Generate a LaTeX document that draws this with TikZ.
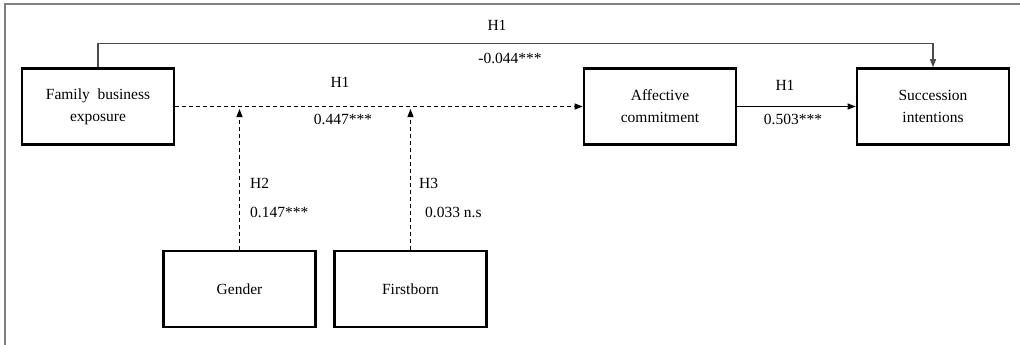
\documentclass[tikz,border=0pt]{standalone}
\usepackage{fontspec}
\setmainfont{Liberation Serif}
\usetikzlibrary{arrows.meta}
\begin{document}
\begin{tikzpicture}[x=1pt,y=-1pt,
  varbox/.style={draw=black,line width=2.6pt,minimum width=152pt,minimum height=76pt,
    align=center,inner sep=0pt,font=\fontsize{15.5}{22}\selectfont},
  conn/.style={line width=1.1pt,-{Triangle[length=8pt,width=6pt]}},
  dconn/.style={conn,dash pattern=on 4pt off 3pt},
  lab/.style={inner sep=0pt,font=\fontsize{15.5}{18}\selectfont}]
\useasboundingbox (0,0) rectangle (1020,345);
\draw[line width=2pt,color=black!50] (4.5,345) -- (4.5,4.5) -- (1020,4.5);

\node[varbox] (fam) at (98,106.5) {Family\ \ business\\exposure};
\node[varbox] (aff) at (660,106.5) {Affective\\commitment};
\node[varbox] (suc) at (933,106.5) {Succession\\intentions};
\node[varbox] (gen) at (239.5,289) {Gender};
\node[varbox] (fb) at (410.5,289) {Firstborn};

\coordinate (m1) at (239.5,109);
\coordinate (m2) at (410.5,109);

\draw[conn,color=black!70] (fam.north) -- ++(0,-24) -| (suc.north);
\draw[dconn] (fam.east) -- (aff.west);
\draw[conn] (aff.east) -- (suc.west);
\draw[dconn] (gen.north) -- (m1);
\draw[dconn] (fb.north) -- (m2);

\node[lab] (l1) at (497,25) {H1};
\node[lab] (l2) at (510,58) {-0.044***};
\node[lab] (l3) at (340,82) {H1};
\node[lab] (l4) at (343,119) {0.447***};
\node[lab] (l5) at (785,85) {H1};
\node[lab] (l6) at (793,119) {0.503***};
\node[lab,anchor=west] (l7) at (250,183) {H2};
\node[lab,anchor=west] (l8) at (250,212) {0.147***};
\node[lab,anchor=west] (l9) at (419,183) {H3};
\node[lab,anchor=west] (l10) at (425,212) {0.033 n.s};
\end{tikzpicture}
\end{document}
